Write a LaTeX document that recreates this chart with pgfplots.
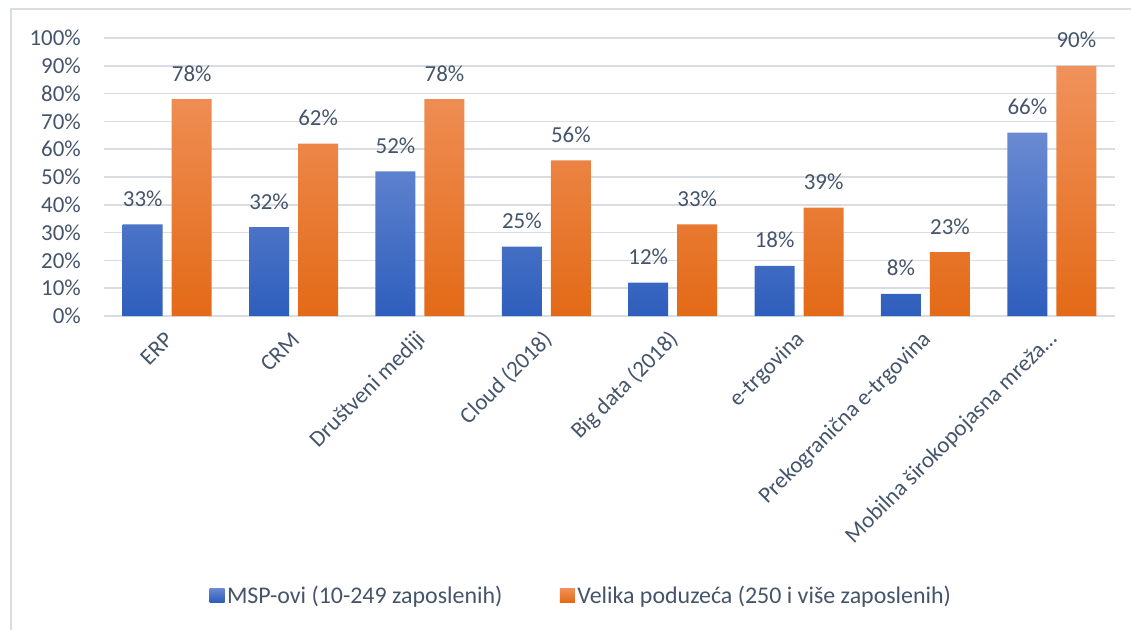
\documentclass[border=0pt]{standalone}
\usepackage{pgfplots}
\pgfplotsset{compat=1.18}
\usepackage{fontspec}
\setmainfont{Carlito}
\definecolor{txt}{HTML}{44546A}
\definecolor{gridc}{HTML}{D9DDE3}
\definecolor{blueT}{HTML}{6A8AD2}
\definecolor{blueB}{HTML}{2E5EBC}
\definecolor{orT}{HTML}{F0925C}
\definecolor{orB}{HTML}{E36A17}
\newcommand{\lblfont}{\fontsize{23}{27}\selectfont}

\begin{document}
\begin{tikzpicture}
\begin{axis}[
  scale only axis, width=1011bp, height=278bp,
  ymin=0, ymax=100, ytick={0,10,...,100},
  xmin=-0.5, xmax=7.5, xtick=data,
  xticklabels={ERP, CRM, Društveni mediji, Cloud (2018), Big data (2018), e-trgovina, Prekogranična e-trgovina, Mobilna širokopojasna mreža…},
  ybar=9bp, bar width=40bp,
  ymajorgrids, grid style={gridc, line width=1.5bp},
  axis line style={draw=none}, major tick length=0pt,
  /pgf/number format/assume math mode=true,
  yticklabel={\pgfmathparse{int(\tick)}\pgfmathresult\%},
  yticklabel style={anchor=east, inner sep=0pt, xshift=-23bp, text=txt, font=\lblfont},
  xticklabel style={yshift=-20bp, xshift=2bp, rotate=45, anchor=east, inner sep=0pt, text=txt, font=\lblfont},
  nodes near coords={\pgfmathprintnumber{\pgfplotspointmeta}\%},
  every node near coord/.append style={anchor=base, yshift=18bp, text=txt, font=\lblfont},
  legend style={at={(rel axis cs:0.4723,-1.0036)}, anchor=center, draw=none, text=txt,
    font=\fontsize{24}{28}\selectfont, nodes={inner sep=2.5bp},
    /tikz/every even column/.append style={column sep=55bp}},
  legend columns=2,
  legend image code/.code={\path[#1, draw=none] (0bp,-7bp) rectangle (15bp,7bp);},
]
\addplot[draw=none, top color=blueT, bottom color=blueB] coordinates {
 (0,33) (1,32) (2,52) (3,25) (4,12) (5,18) (6,8) (7,66)
};
\addplot[draw=none, top color=orT, bottom color=orB] coordinates {
 (0,78) (1,62) (2,78) (3,56) (4,33) (5,39) (6,23) (7,90)
};
\legend{MSP-ovi (10-249 zaposlenih), Velika poduzeća (250 i više zaposlenih)}
\coordinate (bl) at (rel axis cs:-0.10287,-1.12590);
\coordinate (tr) at (rel axis cs:1.01583,1.13669);
\coordinate (b1) at (rel axis cs:-0.09199,1.10432);
\coordinate (b2) at (rel axis cs:1.0247,-1.1655);
\end{axis}
\pgfresetboundingbox
\path[use as bounding box] (bl) rectangle (tr);
\draw[gridc, line width=1.5bp] (b1) rectangle (b2);
\end{tikzpicture}
\end{document}
